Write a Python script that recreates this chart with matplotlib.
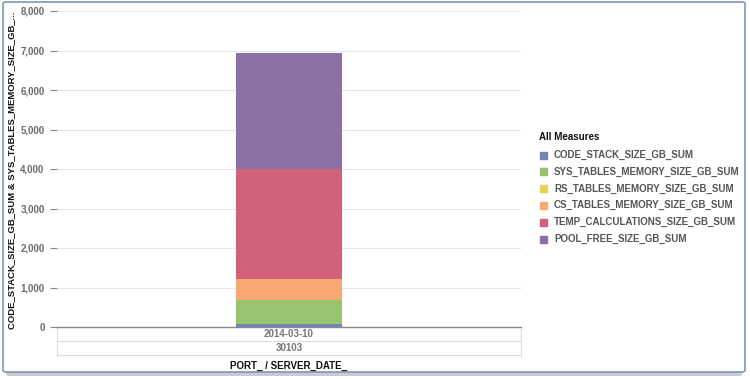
import matplotlib
matplotlib.use("Agg")
import matplotlib.pyplot as plt
from matplotlib.patches import FancyBboxPatch, Rectangle
from matplotlib.lines import Line2D

categories = ["2014-03-10"]
port = "30103"
series_names = ["CODE_STACK_SIZE_GB_SUM", "SYS_TABLES_MEMORY_SIZE_GB_SUM",
                "RS_TABLES_MEMORY_SIZE_GB_SUM", "CS_TABLES_MEMORY_SIZE_GB_SUM",
                "TEMP_CALCULATIONS_SIZE_GB_SUM", "POOL_FREE_SIZE_GB_SUM"]
code_stack = [85]
sys_tables = [600]
rs_tables = [5]
cs_tables = [535]
temp_calc = [2770]
pool_free = [2935]
yticks = [0, 1000, 2000, 3000, 4000, 5000, 6000, 7000, 8000]
colors = ["#6f87b4", "#98c46f", "#e9d25a", "#f7a873", "#d2627a", "#8a70a5"]

W, H = 750, 379
fig = plt.figure(figsize=(7.5, 3.79), dpi=100)
plt.rcParams['font.family'] = ['Liberation Sans', 'DejaVu Sans']

def fx(x): return x / W
def fy(y): return 1 - y / H

# frame with shadow
fig.patches.append(FancyBboxPatch((fx(6), fy(376)), fx(742) - fx(6), fy(6) - fy(376),
                                  boxstyle="round,pad=0,rounding_size=0.004",
                                  transform=fig.transFigure, facecolor="#c8ccd2",
                                  edgecolor="none", zorder=0))
fig.patches.append(FancyBboxPatch((fx(3), fy(372)), fx(745) - fx(3), fy(2) - fy(372),
                                  boxstyle="round,pad=0,rounding_size=0.004",
                                  transform=fig.transFigure, facecolor="white",
                                  edgecolor="#7e98b4", linewidth=1.2, zorder=1))

ax = fig.add_axes([fx(57), fy(327), fx(521) - fx(57), fy(11) - fy(327)])
ax.set_facecolor("none")
ax.set_zorder(2)

series = [code_stack, sys_tables, rs_tables, cs_tables, temp_calc, pool_free]
x = list(range(len(categories)))
bottom = [0] * len(categories)
for name, vals, c in zip(series_names, series, colors):
    ax.bar(x, vals, width=0.228, bottom=bottom, color=c, label=name, zorder=3)
    bottom = [b + v for b, v in zip(bottom, vals)]

ax.set_xlim(-0.5, 0.5)
ax.set_ylim(0, 8000)
ax.set_yticks(yticks)
ax.set_yticklabels([f"{v:,}" for v in yticks], fontsize=7, fontweight="bold", color="#6a6a6a")
ax.tick_params(axis="y", length=5, width=0.8, color="#888888", pad=4)
ax.set_xticks([])
for s in ["top", "right", "left"]:
    ax.spines[s].set_visible(False)
ax.spines["bottom"].set_color("#888888")
ax.spines["bottom"].set_linewidth(1.0)
ax.grid(axis="y", color="#e4e8ec", linewidth=0.8, zorder=0)
ax.set_axisbelow(True)

fig.text(fx(12), fy(170), "CODE_STACK_SIZE_GB_SUM & SYS_TABLES_MEMORY_SIZE_GB_...",
         rotation=90, ha="center", va="center",
         fontsize=6.8, fontweight="bold", color="#111111")

# table below axis
for yy in [341, 355]:
    fig.add_artist(Line2D([fx(57), fx(521)], [fy(yy), fy(yy)], color="#dddddd", lw=0.8,
                          transform=fig.transFigure))
for xx in [57, 521]:
    fig.add_artist(Line2D([fx(xx), fx(xx)], [fy(327), fy(356)], color="#dddddd", lw=0.8,
                          transform=fig.transFigure))
fig.text(fx(289), fy(334), categories[0], ha="center", va="center", fontsize=7,
         fontweight="bold", color="#777777")
fig.text(fx(289), fy(348), port, ha="center", va="center", fontsize=7,
         fontweight="bold", color="#777777")
fig.text(fx(289), fy(366), "PORT_ / SERVER_DATE_", ha="center", va="center", fontsize=7,
         fontweight="bold", color="#111111")

# legend
fig.text(fx(539), fy(137), "All Measures", ha="left", va="center", fontsize=7,
         fontweight="bold", color="#111111")
for i, (name, c) in enumerate(zip(series_names, colors)):
    yy = 155 + i * 16.8
    fig.patches.append(Rectangle((fx(540), fy(yy + 3.5)), fx(7), 7 / H, color=c,
                                 transform=fig.transFigure, zorder=3))
    fig.text(fx(554), fy(yy), name, ha="left", va="center", fontsize=7,
             fontweight="bold", color="#555555")

fig.savefig("out.png", dpi=100)
